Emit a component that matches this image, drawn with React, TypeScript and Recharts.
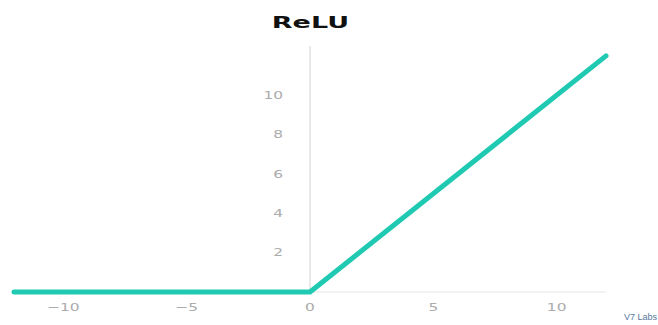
import { LineChart, Line, XAxis, YAxis, ReferenceLine } from 'recharts';

const xValues = [-12, 0, 12];
const reluValues = [0, 0, 12];
const xTicks = [-10, -5, 0, 5, 10];
const yTicks = [2, 4, 6, 8, 10];

const TEAL = '#1fc9b2';
const TICK_GREY = '#ababab';

const chartData = xValues.map((x, i) => ({ x, y: reluValues[i] }));

// the source image is stretched sideways, so labels get a horizontal scale
function WideTick(props: any) {
  const { x, y, payload, offsetX = 0, offsetY = 0, anchor = 'middle' } = props;
  const label = String(payload.value).replace('-', '\u2212');
  return (
    <g transform={`translate(${x + offsetX},${y + offsetY}) scale(1.4,1)`}>
      <text
        textAnchor={anchor}
        dominantBaseline="central"
        fill={TICK_GREY}
        fontSize={11}
        fontFamily="DejaVu Sans, sans-serif"
      >
        {label}
      </text>
    </g>
  );
}

export default function App() {
  return (
    <div style={{ position: 'absolute', left: 0, top: 0, width: 658, height: 325, background: '#fff' }}>
      <div
        style={{
          position: 'absolute',
          left: 0,
          top: 15,
          width: 620,
          textAlign: 'center',
          lineHeight: '15px',
        }}
      >
        <span
          style={{
            display: 'inline-block',
            fontFamily: 'DejaVu Sans, sans-serif',
            fontWeight: 'bold',
            fontSize: 15,
            color: '#111',
            transform: 'scaleX(1.8)',
            transformOrigin: 'center',
          }}
        >
          ReLU
        </span>
      </div>
      <LineChart
        width={658}
        height={325}
        data={chartData}
        margin={{ top: 46, right: 52, bottom: 0, left: 0 }}
      >
        <XAxis
          dataKey="x"
          type="number"
          domain={[-12, 12]}
          ticks={xTicks}
          axisLine={false}
          tickLine={false}
          height={33}
          interval={0}
          tick={<WideTick offsetY={7} />}
        />
        <YAxis
          type="number"
          domain={[0, 12.5]}
          ticks={yTicks}
          axisLine={false}
          tickLine={false}
          width={14}
          interval={0}
          tick={<WideTick offsetX={277} anchor="end" />}
        />
        <ReferenceLine y={0} stroke="#e6e6e6" strokeWidth={1} />
        <ReferenceLine x={0} stroke="#d2d2d2" strokeWidth={1} />
        <Line
          type="linear"
          dataKey="y"
          stroke={TEAL}
          strokeWidth={5}
          strokeLinecap="round"
          strokeLinejoin="round"
          dot={false}
          isAnimationActive={false}
        />
      </LineChart>
      <div
        style={{
          position: 'absolute',
          right: 1,
          top: 312,
          fontFamily: 'Liberation Sans, Arial, sans-serif',
          fontSize: 9,
          color: '#55789c',
          lineHeight: '11px',
        }}
      >
        V7 Labs
      </div>
    </div>
  );
}
